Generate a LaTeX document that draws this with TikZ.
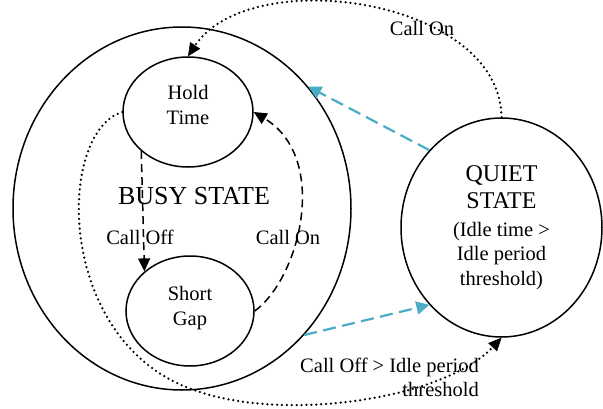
\documentclass[tikz,border=0pt]{standalone}
\usepackage{fontspec}
\setmainfont{Liberation Serif}
\usepackage{tikz}
\usetikzlibrary{shapes.geometric}
\usepgflibrary{arrows.meta}
\definecolor{quietblue}{RGB}{75,172,198}

\begin{document}
\begin{tikzpicture}[x=1pt,y=1pt,
        state/.style={draw,ellipse,line width=1.5pt,inner sep=0pt,align=center},
        txt/.style={font=\fontsize{20.5}{24.5}\selectfont},
        bigtxt/.style={font=\fontsize{26}{30}\selectfont},
        blackdash/.style={line width=1.5pt,dash pattern=on 8pt off 5pt,
            -{Triangle[length=13pt,width=12pt]}},
        bluedash/.style={draw=quietblue,line width=2.2pt,dash pattern=on 13pt off 6.5pt,
            -{Triangle[length=13pt,width=13pt,fill=quietblue]}},
        dotline/.style={line width=2.5pt,line cap=round,dash pattern=on 0pt off 4.9pt,
            -{Triangle[length=13pt,width=12pt,line width=0.5pt]}}]
        \useasboundingbox (0,0) rectangle (603,408);
        % states
        \node[state,minimum width=338pt,minimum height=363pt] (busy) at (182,199.5) {};
        \node[bigtxt] (busytitle) at (194,212) {BUSY STATE};
        \node[state,txt,text depth=14pt,minimum width=130pt,minimum height=110pt] (hold) at (188,296) {Hold\\Time};
        \node[state,txt,text depth=10.5pt,minimum width=128pt,minimum height=110pt] (short) at (190,97) {Short\\Gap};
        \node[state,txt,minimum width=201pt,minimum height=219pt] (quiet) at (501.5,180.5)
            {{\fontsize{24}{27}\selectfont QUIET}\\[3pt]{\fontsize{24}{27}\selectfont STATE}\\[3pt](Idle time >\\Idle period\\threshold)};
        % labels
        \node[txt] (offlabel) at (140,171) {Call Off};
        \node[txt] (onlabel) at (288,171) {Call On};
        \node[txt] (toplabel) at (422,380) {Call On};
        \node[txt,align=right] (bottomlabel) at (389.5,30.5) {Call Off > Idle period\\threshold};
        % transitions
        \draw[blackdash] (hold.220) -- (short.139);
        \draw[blackdash] (short.east) .. controls (300,130) and (330,250) .. (hold.east);
        \draw[bluedash] (quiet.133) -- (busy.44);
        \draw[bluedash] (busy.-46.5) -- (quiet.227);
        \draw[dotline] (hold.west) .. controls (55,275) and (55,60) .. (200,16)
            .. controls (290,-14) and (445,10) .. (quiet.south);
        \draw[dotline] (quiet.north) .. controls (500,410) and (250,445) .. (hold.north);
    \end{tikzpicture}
\end{document}
